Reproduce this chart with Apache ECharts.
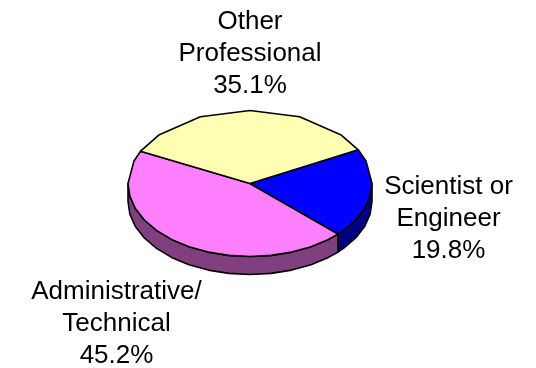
<!DOCTYPE html>
<html><head><meta charset="utf-8">
<style>html,body{margin:0;padding:0;background:#fff}#c{width:536px;height:368px}</style>
<script src="https://cdn.jsdelivr.net/npm/echarts@6/dist/echarts.min.js"></script>
</head><body><div id="c"></div>
<script>
const categories = ["Scientist or\nEngineer", "Administrative/\nTechnical", "Other\nProfessional"];
const shares = [19.8, 45.2, 35.1];
const topColors = ["#0000FF", "#FF80FF", "#FFFFB3"];
const sideColors = ["#000080", "#804080", null];

const cx = 250, cy = 183.5, rx = 122, ry = 73, depth = 18, startDeg = 27.5;
const labelPos = [[448.5, 219], [116.5, 324], [250, 54]];
const total = shares.reduce((a, b) => a + b, 0);
const norm = d => ((d % 360) + 360) % 360;
const pt = (d, dy) => [cx + rx * Math.cos(d * Math.PI / 180), cy - ry * Math.sin(d * Math.PI / 180) + (dy || 0)];
function isVertex(d) { // coarse facets on the far side of the rim, finer ones on the near side
  const n = Math.round(norm(d));
  if (n > 0 && n < 180) return (n - 90 + 240) % 24 === 0;
  return n % 10 === 0;
}
function arcDegs(a, b) {
  const out = [a];
  for (let d = Math.ceil(a) - 1; d > b + 0.01; d--) { if (isVertex(d) && d < a - 1 && d > b + 1) out.push(d); }
  out.push(b);
  return out;
}
function renderItem(params, api) {
  const i = api.value(0);
  let a = startDeg;
  for (let j = 0; j < i; j++) a -= shares[j] / total * 360;
  const b = a - shares[i] / total * 360;
  const style = c => ({ fill: c, stroke: "#000", lineWidth: 1.6, lineJoin: "round" });
  const children = [];
  const lo = Math.max(b, -180), hi = Math.min(a, 0);
  if (sideColors[i] && hi > lo) {
    const degs = arcDegs(hi, lo);
    const pts = degs.map(d => pt(d)).concat(degs.slice().reverse().map(d => pt(d, depth)));
    children.push({ type: "polygon", z2: 1, shape: { points: pts }, style: style(sideColors[i]) });
  }
  const topPts = [[cx, cy]].concat(arcDegs(a, b).map(d => pt(d)));
  children.push({ type: "polygon", z2: 2, shape: { points: topPts }, style: style(topColors[i]) });
  children.push({ type: "text", z2: 3, x: labelPos[i][0], y: labelPos[i][1], style: {
    text: categories[i] + "\n" + shares[i].toFixed(1) + "%",
    fill: "#000", font: '26px "Liberation Sans", Arial, sans-serif', lineHeight: 32,
    align: "center", verticalAlign: "middle" } });
  return { type: "group", children };
}
const chart = echarts.init(document.getElementById("c"), null, { renderer: "canvas" });
chart.setOption({
  animation: false,
  backgroundColor: "#fff",
  series: [{ type: "custom", coordinateSystem: "none", renderItem, silent: true,
    data: [[1], [0], [2]], encode: {} }]
});
</script></body></html>
